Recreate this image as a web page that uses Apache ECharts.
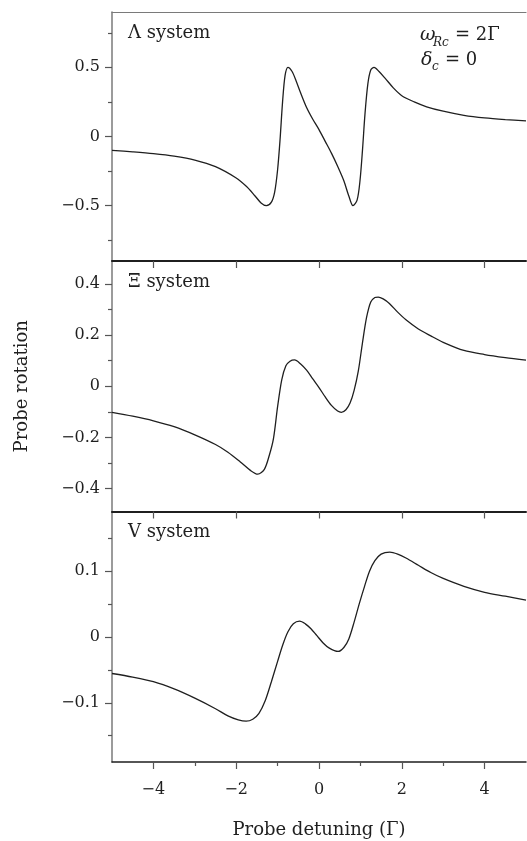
<!DOCTYPE html>
<html>
<head>
<meta charset="utf-8">
<script src="https://cdn.jsdelivr.net/npm/echarts@6/dist/echarts.min.js"></script>
<style>
  html, body { margin: 0; padding: 0; background: #fff; }
  #chart { width: 527px; height: 841px; }
</style>
</head>
<body>
<div id="chart"></div>
<script>
// Probe detuning (units of Γ) and probe rotation for the three level schemes
const lambdaX = [-5, -4.5, -4, -3.5, -3, -2.5, -2, -1.75, -1.55, -1.4, -1.27, -1.15, -1.07, -1.0, -0.94, -0.88, -0.82, -0.75, -0.65, -0.55, -0.45, -0.3, -0.15, 0, 0.15, 0.3, 0.45, 0.6, 0.72, 0.82, 0.92, 0.99, 1.05, 1.11, 1.18, 1.25, 1.33, 1.45, 1.6, 1.8, 2.0, 2.3, 2.6, 3.0, 3.5, 4.0, 4.5, 5.0];
const lambdaY = [-0.100, -0.111, -0.124, -0.142, -0.170, -0.218, -0.300, -0.362, -0.428, -0.480, -0.500, -0.475, -0.400, -0.240, -0.020, 0.250, 0.440, 0.500, 0.470, 0.400, 0.320, 0.210, 0.125, 0.050, -0.035, -0.120, -0.215, -0.320, -0.430, -0.500, -0.460, -0.320, -0.100, 0.160, 0.380, 0.480, 0.500, 0.470, 0.420, 0.350, 0.295, 0.250, 0.215, 0.183, 0.153, 0.134, 0.122, 0.113];

const xiX = [-5, -4.5, -4, -3.5, -3, -2.5, -2.2, -1.9, -1.65, -1.48, -1.32, -1.2, -1.1, -1.0, -0.9, -0.8, -0.7, -0.59, -0.45, -0.3, -0.15, 0, 0.15, 0.3, 0.45, 0.54, 0.65, 0.75, 0.85, 0.95, 1.05, 1.15, 1.25, 1.35, 1.43, 1.55, 1.7, 1.9, 2.1, 2.4, 2.7, 3.0, 3.5, 4.0, 4.5, 5.0];
const xiY = [-0.102, -0.117, -0.135, -0.158, -0.190, -0.228, -0.258, -0.296, -0.330, -0.344, -0.325, -0.270, -0.205, -0.080, 0.025, 0.080, 0.098, 0.103, 0.088, 0.063, 0.029, -0.005, -0.042, -0.075, -0.097, -0.102, -0.092, -0.066, -0.015, 0.060, 0.170, 0.270, 0.330, 0.347, 0.349, 0.342, 0.324, 0.290, 0.260, 0.224, 0.197, 0.172, 0.140, 0.124, 0.112, 0.102];

const vX = [-5, -4.5, -4, -3.5, -3, -2.5, -2.2, -1.95, -1.76, -1.6, -1.45, -1.3, -1.15, -1.0, -0.87, -0.75, -0.62, -0.47, -0.33, -0.2, -0.05, 0.1, 0.25, 0.46, 0.6, 0.72, 0.85, 0.97, 1.1, 1.22, 1.35, 1.5, 1.71, 1.9, 2.1, 2.4, 2.7, 3.0, 3.5, 4.0, 4.5, 5.0];
const vY = [-0.0555, -0.061, -0.068, -0.079, -0.093, -0.109, -0.120, -0.126, -0.128, -0.125, -0.116, -0.097, -0.068, -0.037, -0.011, 0.008, 0.020, 0.024, 0.020, 0.013, 0.002, -0.009, -0.017, -0.022, -0.016, -0.003, 0.023, 0.050, 0.077, 0.100, 0.116, 0.126, 0.129, 0.126, 0.120, 0.109, 0.098, 0.089, 0.077, 0.068, 0.062, 0.056];

// Tick positions
const xTicksMajor = [-4, -2, 0, 2, 4];
const xTicksMinor = [-3, -1, 1, 3];
const lambdaTicks = [-0.5, 0, 0.5];
const lambdaMinor = [-0.75, -0.25, 0.25, 0.75];
const xiTicks = [-0.4, -0.2, 0, 0.2, 0.4];
const xiMinor = [-0.3, -0.1, 0.1, 0.3];
const vTicks = [-0.1, 0, 0.1];
const vMinor = [-0.15, -0.05, 0.05, 0.15];

const panelNames = ['Λ system', 'Ξ system', 'V system'];
const panelRanges = [0.9, 0.49, 0.19];

const FONT = '"DejaVu Serif", "Liberation Serif", serif';
const INK = '#1f1f1f';
const AXIS_GREY = '#7a7a7a';
const TICK = '#555';

function fmt(v) {
  const s = String(Math.round(v * 1000) / 1000);
  return s.replace('-', '\u2212');
}

const zip = (xs, ys) => xs.map((x, i) => [x, ys[i]]);

const grids = [
  { left: 112, right: 1, top: 12, height: 249 },
  { left: 112, right: 1, top: 261, height: 250.5 },
  { left: 112, right: 1, top: 512, height: 250 }
];

const xAxes = [];
const yAxes = [];
const majorY = [lambdaTicks, xiTicks, vTicks];
const minorY = [lambdaMinor, xiMinor, vMinor];

for (let g = 0; g < 3; g++) {
  const last = g === 2;
  xAxes.push({
    type: 'value', gridIndex: g, min: -5, max: 5,
    splitLine: { show: false },
    axisLine: { show: true, onZero: false, lineStyle: { color: INK, width: last ? 1.5 : 2 } },
    axisTick: { show: true, inside: false, length: 7, customValues: xTicksMajor, lineStyle: { color: TICK, width: 1.2 } },
    axisLabel: { show: last, customValues: xTicksMajor, formatter: fmt, fontFamily: FONT, fontSize: 16, color: INK, margin: 20 },
    name: last ? 'Probe detuning (Γ)' : '',
    nameLocation: 'middle', nameGap: 59,
    nameTextStyle: { fontFamily: FONT, fontSize: 18, color: INK }
  });
  yAxes.push({
    type: 'value', gridIndex: g, min: -panelRanges[g], max: panelRanges[g],
    splitLine: { show: false },
    axisLine: { show: true, onZero: false, lineStyle: { color: AXIS_GREY, width: 1.5 } },
    axisTick: { show: true, inside: false, length: 7, customValues: majorY[g], lineStyle: { color: TICK, width: 1.2 } },
    axisLabel: { show: true, customValues: majorY[g], formatter: fmt, fontFamily: FONT, fontSize: 16, color: INK, margin: 12 },
    name: g === 1 ? 'Probe rotation' : '',
    nameLocation: 'middle', nameGap: 81,
    nameTextStyle: { fontFamily: FONT, fontSize: 18, color: INK }
  });
}
// minor ticks (extra axes without lines or labels)
for (let g = 0; g < 3; g++) {
  yAxes.push({
    type: 'value', gridIndex: g, min: -panelRanges[g], max: panelRanges[g],
    position: 'left', splitLine: { show: false },
    axisLine: { show: false, onZero: false },
    axisTick: { show: true, inside: false, length: 4, customValues: minorY[g], lineStyle: { color: TICK, width: 1.2 } },
    axisLabel: { show: false }
  });
}
xAxes.push({
  type: 'value', gridIndex: 2, min: -5, max: 5, position: 'bottom',
  splitLine: { show: false }, axisLine: { show: false, onZero: false },
  axisTick: { show: true, inside: false, length: 4, customValues: xTicksMinor, lineStyle: { color: TICK, width: 1.2 } },
  axisLabel: { show: false }
});
// top frame line of the upper panel
xAxes.push({
  type: 'value', gridIndex: 0, min: -5, max: 5, position: 'top',
  splitLine: { show: false },
  axisLine: { show: true, onZero: false, lineStyle: { color: AXIS_GREY, width: 1.2 } },
  axisTick: { show: false }, axisLabel: { show: false }
});

const seriesData = [zip(lambdaX, lambdaY), zip(xiX, xiY), zip(vX, vY)];
const series = seriesData.map((d, g) => ({
  type: 'line', xAxisIndex: g, yAxisIndex: g, data: d,
  showSymbol: false, smooth: 0.3,
  lineStyle: { color: INK, width: 1.3 }, silent: true, animation: false
}));

const labelTops = [24, 273, 523];
const graphic = panelNames.map((t, g) => ({
  type: 'text', left: 128, top: labelTops[g],
  style: { text: t, font: '18px ' + FONT, fill: INK }
}));
const italic = 'italic 19px ' + FONT;
const italicSub = 'italic 12px ' + FONT;
graphic.push(
  { type: 'text', left: 420, top: 26, style: { text: 'ω', font: italic, fill: INK } },
  { type: 'text', left: 433, top: 37, style: { text: 'Rc', font: italicSub, fill: INK } },
  { type: 'text', left: 455, top: 26, style: { text: '= 2Γ', font: '18px ' + FONT, fill: INK } },
  { type: 'text', left: 421, top: 51, style: { text: 'δ', font: italic, fill: INK } },
  { type: 'text', left: 432, top: 61, style: { text: 'c', font: italicSub, fill: INK } },
  { type: 'text', left: 445, top: 51, style: { text: '= 0', font: '18px ' + FONT, fill: INK } }
);

const chart = echarts.init(document.getElementById('chart'), null, { renderer: 'canvas' });
chart.setOption({
  animation: false,
  backgroundColor: '#fff',
  grid: grids,
  xAxis: xAxes,
  yAxis: yAxes,
  series: series,
  graphic: graphic
});
</script>
</body>
</html>
